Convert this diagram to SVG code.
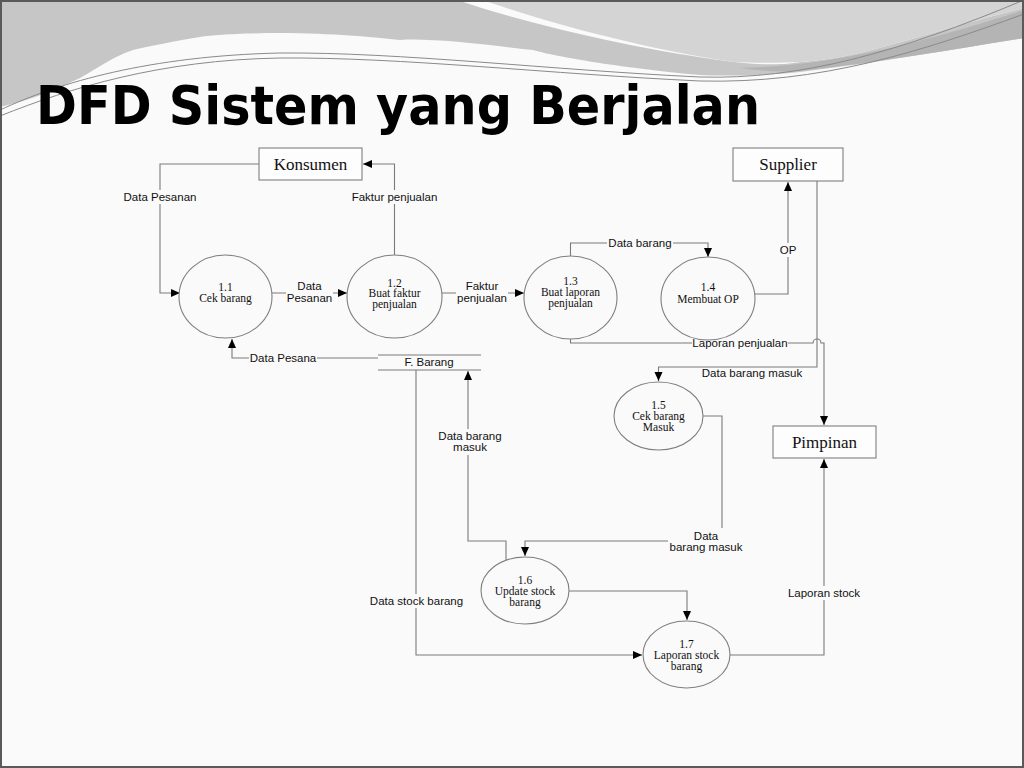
<svg xmlns="http://www.w3.org/2000/svg" width="1024" height="768" viewBox="0 0 1024 768">
<style>
.flow{fill:none;stroke:#7a7a7a;stroke-width:1.1}
.ent{fill:#fdfdfd;stroke:#7f7f7f;stroke-width:1.1}
.proc{fill:#fafafa;stroke:#7f7f7f;stroke-width:1.1}
.et{font-family:"Liberation Serif",serif;font-size:17px;fill:#111;text-anchor:middle}
.pt{font-family:"Liberation Serif",serif;font-size:11.5px;fill:#111;text-anchor:middle}
.lt{font-family:"Liberation Sans",Arial,sans-serif;font-size:11.5px;fill:#111;text-anchor:middle}
.bg{fill:#fafafa;stroke:none}
.thin{fill:none;stroke:#8a8a8a;stroke-width:1}
</style>
<defs>
<marker id="arr" markerUnits="userSpaceOnUse" markerWidth="10" markerHeight="9" refX="9" refY="4" orient="auto">
<path d="M0,0 L9,4 L0,8 Z" fill="#000"/>
</marker>
</defs>
<rect x="0" y="0" width="1024" height="768" fill="#fafafa"/>
<g id="header">
<path d="M0,0 H457 C530,25 640,50 733,62 C770,66 790,64 800,62 C840,60 880,48 933,33 C970,22 1000,14 1024,8 V38 C950,50 880,62 800,72 C760,76 720,76 700,75 C640,70 560,58 533,50 C480,44 430,38 400,40 C360,36 330,33 267,33 C230,34 215,35 200,37 C170,42 150,46 133,50 C110,58 100,67 80,78 C50,92 30,100 0,107 Z" fill="#c6c6c6"/>
<path d="M483,0 H1024 V8 C1000,14 970,22 933,33 C880,48 840,60 800,62 C780,63 760,63 733,62 C640,48 545,22 483,0 Z" fill="#d4d4d4"/>
<path d="M740,68 C820,66 900,50 1024,10 V38 C950,50 880,62 800,71 C780,72 760,71 740,68 Z" fill="#b4b4b4"/>
<path class="thin" d="M0,110 C60,82 150,56 280,53 C400,52 550,70 700,77 C800,80 900,52 1024,0"/>
<path class="thin" d="M0,116 C70,88 160,60 280,58 C400,57 550,74 700,81 C820,84 920,52 1024,14"/>
<text x="36" y="124" font-family="'DejaVu Sans',sans-serif" font-weight="bold" font-size="54" textLength="724" lengthAdjust="spacingAndGlyphs" fill="#000">DFD Sistem yang Berjalan</text>
</g>
<rect x="1" y="1" width="1022" height="766" fill="none" stroke="#5a5a5a" stroke-width="2"/>

<g id="connectors">
<path class="flow" d="M259,164 H160 V293 H180" marker-end="url(#arr)"/>
<path class="flow" d="M272,293 H347" marker-end="url(#arr)"/>
<path class="flow" d="M394.5,255 V164 H363" marker-end="url(#arr)"/>
<path class="flow" d="M442,293 H524" marker-end="url(#arr)"/>
<path class="flow" d="M570.5,256 V243 H708 V257" marker-end="url(#arr)"/>
<path class="flow" d="M755,294 H788 V182" marker-end="url(#arr)"/>
<path class="flow" d="M570.5,339 V343 H813 A4,4 0 0 1 821,343 H824 V425" marker-end="url(#arr)"/>
<path class="flow" d="M817,181 V367 H658.5 V381" marker-end="url(#arr)"/>
<path class="flow" d="M703,416 H722 V541 H525 V556" marker-end="url(#arr)"/>
<path class="flow" d="M506,560 V541 H468 V371" marker-end="url(#arr)"/>
<path class="flow" d="M378,358 H232 V339" marker-end="url(#arr)"/>
<path class="flow" d="M416,370 V655 H642" marker-end="url(#arr)"/>
<path class="flow" d="M569,591 H687 V620" marker-end="url(#arr)"/>
<path class="flow" d="M730,655 H824 V459" marker-end="url(#arr)"/>
<g id="labels">
<rect class="bg" x="122" y="190" width="76" height="14"/><text class="lt" x="160" y="201">Data Pesanan</text>
<rect class="bg" x="351" y="190" width="87" height="14"/><text class="lt" x="394.5" y="201">Faktur penjualan</text>
<rect class="bg" x="286" y="279" width="47" height="26"/><text class="lt" x="309.5" y="290">Data</text><text class="lt" x="309.5" y="302">Pesanan</text>
<rect class="bg" x="456" y="279" width="52" height="26"/><text class="lt" x="482" y="290">Faktur</text><text class="lt" x="482" y="302">penjualan</text>
<rect class="bg" x="607" y="236" width="66" height="14"/><text class="lt" x="640" y="247">Data barang</text>
<rect class="bg" x="778" y="243" width="20" height="14"/><text class="lt" x="788" y="254">OP</text>
<rect class="bg" x="692" y="336" width="96" height="14"/><text class="lt" x="740" y="347">Laporan penjualan</text>
<text class="lt" x="752" y="377">Data barang masuk</text>
<rect class="bg" x="668" y="528" width="76" height="26"/><text class="lt" x="706" y="540">Data</text><text class="lt" x="706" y="551">barang masuk</text>
<rect class="bg" x="437" y="429" width="66" height="26"/><text class="lt" x="470" y="440">Data barang</text><text class="lt" x="470" y="451">masuk</text>
<rect class="bg" x="249" y="351" width="68" height="14"/><text class="lt" x="283" y="362">Data Pesana</text>
<rect class="bg" x="369" y="594" width="95" height="14"/><text class="lt" x="416.5" y="605">Data stock barang</text>
<rect class="bg" x="787" y="586" width="74" height="14"/><text class="lt" x="824" y="597">Laporan stock</text>
</g>
</g>

<g id="konsumen"><rect class="ent" x="259" y="148" width="103" height="32"/><text class="et" x="310.5" y="170">Konsumen</text></g>
<g id="supplier"><rect class="ent" x="733" y="148" width="110" height="33"/><text class="et" x="788" y="170">Supplier</text></g>
<g id="pimpinan"><rect class="ent" x="773" y="426" width="103" height="32"/><text class="et" x="824.5" y="448">Pimpinan</text></g>

<g id="p11"><ellipse class="proc" cx="225.5" cy="296.5" rx="46.5" ry="41.5"/><text class="pt" x="225.5" y="291">1.1</text><text class="pt" x="225.5" y="302">Cek barang</text></g>
<g id="p12"><ellipse class="proc" cx="394.5" cy="296.5" rx="47.5" ry="41.5"/><text class="pt" x="394.5" y="287">1.2</text><text class="pt" x="394.5" y="297">Buat faktur</text><text class="pt" x="394.5" y="308">penjualan</text></g>
<g id="p13"><ellipse class="proc" cx="570.5" cy="297.5" rx="46.5" ry="41.5"/><text class="pt" x="570.5" y="285">1.3</text><text class="pt" x="570.5" y="296">Buat laporan</text><text class="pt" x="570.5" y="307">penjualan</text></g>
<g id="p14"><ellipse class="proc" cx="708" cy="298.5" rx="47" ry="41.5"/><text class="pt" x="708" y="291">1.4</text><text class="pt" x="708" y="303">Membuat OP</text></g>
<g id="p15"><ellipse class="proc" cx="658.5" cy="416" rx="44.5" ry="34"/><text class="pt" x="658.5" y="409">1.5</text><text class="pt" x="658.5" y="420">Cek barang</text><text class="pt" x="658.5" y="431">Masuk</text></g>
<g id="p16"><ellipse class="proc" cx="525" cy="590.5" rx="44" ry="33.5"/><text class="pt" x="525" y="584">1.6</text><text class="pt" x="525" y="595">Update stock</text><text class="pt" x="525" y="606">barang</text></g>
<g id="p17"><ellipse class="proc" cx="686.5" cy="654.5" rx="43.5" ry="33.5"/><text class="pt" x="686.5" y="648">1.7</text><text class="pt" x="686.5" y="659">Laporan stock</text><text class="pt" x="686.5" y="670">barang</text></g>

<g id="fbarang">
<line x1="378" y1="355" x2="481" y2="355" stroke="#7a7a7a" stroke-width="1.1"/>
<line x1="378" y1="370" x2="481" y2="370" stroke="#7a7a7a" stroke-width="1.1"/>
<text class="lt" x="429" y="366">F. Barang</text>
</g>
</svg>
